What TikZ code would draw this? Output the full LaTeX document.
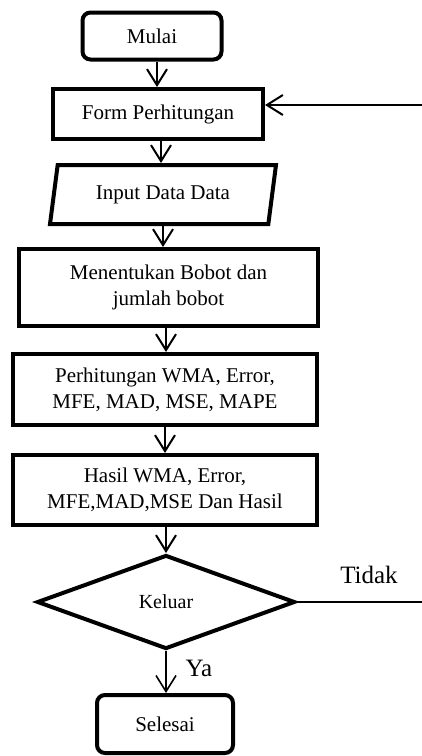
\documentclass[tikz,border=0pt]{standalone}
\usepackage{fontspec}
\setmainfont{Liberation Serif}
\usetikzlibrary{arrows.meta,shapes.geometric}

\begin{document}
\begin{tikzpicture}[x=0.5pt,y=-0.5pt,
  every node/.style={font=\fontsize{10.5}{13}\selectfont,align=center},
  box/.style={draw,line width=2pt,inner sep=0pt},
  terminal/.style={box,rounded corners=4pt},
  io/.style={box,trapezium,trapezium left angle=75,trapezium right angle=105,trapezium stretches=true},
  decision/.style={box,diamond,font=\fontsize{10}{12}\selectfont},
  flow/.style={line width=1pt,-{Straight Barb[length=8pt,width=10pt]}},
  back/.style={line width=0.8pt},
  answer/.style={font=\fontsize{12.5}{15}\selectfont}]
\useasboundingbox (0,0) rectangle (422,756);
\node[terminal,minimum width=69.5pt,minimum height=23.5pt] (mulai) at (152,36) {Mulai};
\node[box,minimum width=105pt,minimum height=25pt] (form) at (158,114) {Form Perhitungan};
\node[io,minimum width=113pt,minimum height=29.5pt] (input) at (163,194.5) {Input Data Data};
\node[box,minimum width=149.5pt,minimum height=38.5pt] (bobot) at (168.5,287.5) {Menentukan Bobot dan\\jumlah bobot};
\node[box,minimum width=152pt,minimum height=35.5pt] (hitung) at (165,389.5) {Perhitungan WMA, Error,\\MFE, MAD, MSE, MAPE};
\node[box,minimum width=152pt,minimum height=35pt] (hasil) at (165,490) {Hasil WMA, Error,\\MFE,MAD,MSE Dan Hasil};
\node[decision,minimum width=129pt,minimum height=47pt] (keluar) at (166,602) {Keluar};
\node[terminal,minimum width=68pt,minimum height=29pt] (selesai) at (165,724) {Selesai};
\node[answer] (tidak) at (369,575) {Tidak};
\node[answer] (ya) at (199,668) {Ya};
\coordinate (exitR) at (422,602);
\coordinate (backR) at (422,105);
% alur utama
\draw[flow] ([xshift=2.5pt]mulai.south) -- ([xshift=2.5pt]mulai.south |- form.north);
\draw[flow] ([xshift=1.5pt]form.south) -- ([xshift=1.5pt]form.south |- input.north);
\draw[flow] (input.south) -- (input.south |- bobot.north);
\draw[flow] ([xshift=-1.25pt]bobot.south) -- ([xshift=-1.25pt]bobot.south |- hitung.north);
\draw[flow] (hitung.south) -- (hitung.south |- hasil.north);
\draw[flow] (hasil.south -| keluar.north) -- (keluar.north);
\draw[flow,line width=0.8pt] (keluar.south) -- (keluar.south |- selesai.north);
% kembali ke form
\draw[back] (keluar.east) -- (exitR);
\draw[flow] (backR) -- (backR -| form.east);
\end{tikzpicture}
\end{document}
